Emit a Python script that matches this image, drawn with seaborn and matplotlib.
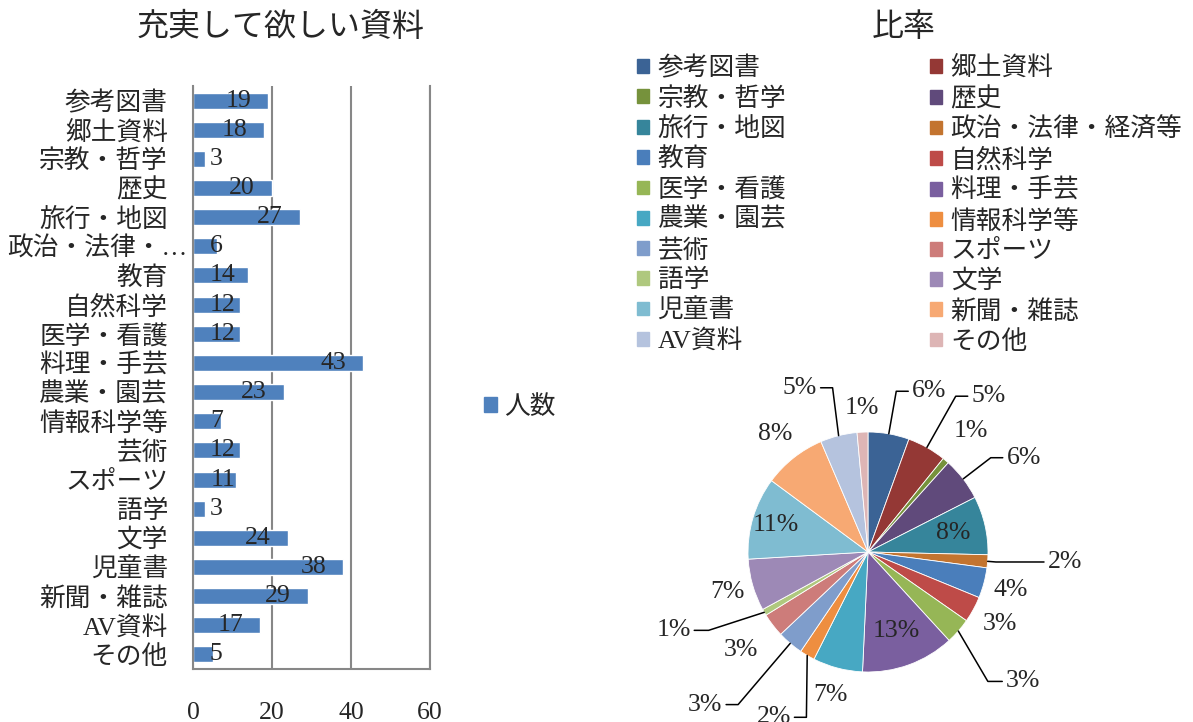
import numpy as np
import pandas as pd
import seaborn as sns
import matplotlib.pyplot as plt
import matplotlib.transforms as mtransforms
from matplotlib.patches import Patch

# data
categories = ['参考図書', '郷土資料', '宗教・哲学', '歴史', '旅行・地図', '政治・法律・経済等',
              '教育', '自然科学', '医学・看護', '料理・手芸', '農業・園芸', '情報科学等',
              '芸術', 'スポーツ', '語学', '文学', '児童書', '新聞・雑誌', 'AV資料', 'その他']
counts = [19, 18, 3, 20, 27, 6, 14, 12, 12, 43, 23, 7, 12, 11, 3, 24, 38, 29, 17, 5]
x_ticks = [0, 20, 40, 60]
series_name = '人数'
bar_title = '充実して欲しい資料'
pie_title = '比率'

colors = ['#3B6395', '#943835', '#76923C', '#604A7B', '#36859B', '#C3742F',
          '#4A7EBB', '#BE4B48', '#96B656', '#7A5F9F', '#47A8C3', '#EE8E40',
          '#7F9DCB', '#CD7C7A', '#AFC87E', '#9D89B6', '#7FBCD1', '#F7A973',
          '#B5C3DE', '#DDB5B5']

# pie label placement: (mode, radius factor, angle shift (deg, clockwise), leader tail)
label_spec = [('line', 1.36, 0, 0.1), ('line', 1.49, 0, 0.1), ('out', 1.32, 0, 0),
              ('line', 1.29, 0, 0.1), ('in', 0.73, 0, 0), ('line', 1.07, 0, 0.4),
              ('out', 1.23, 0, 0), ('out', 1.25, 0, 0), ('line', 1.47, 6, 0.12),
              ('in', 0.7, 0, 0), ('out', 1.23, 0, 0), ('line', 1.47, -10, 0.1),
              ('line', 1.67, 0, 0.1), ('out', 1.34, 0, 0), ('line', 1.48, 4, 0.12),
              ('out', 1.22, 0, 0), ('in', 0.8, 0, 0), ('out', 1.25, 0, 0),
              ('line', 1.4, 2, 0.1), ('out', 1.2, 0, 0)]

sns.set_style('white')
plt.rcParams['font.family'] = ['Liberation Serif', 'Noto Sans CJK JP']
FS = 18.5
W, H = 1193, 722
fig = plt.figure(figsize=(W / 100, H / 100), dpi=100)

# ---- bar chart ----
ax = fig.add_axes([193 / W, 1 - 669 / H, 237 / W, 583 / H])
df = pd.DataFrame({'分類': categories, series_name: counts})
sns.barplot(data=df, x=series_name, y='分類', color='#4F81BD', saturation=1,
            width=0.55, errorbar=None, ax=ax)
ax.set_xlim(0, 60)
ax.set_xticks(x_ticks)
ax.set_yticks(range(len(categories)))
ax.set_yticklabels([c if len(c) <= 6 else c[:6] + '…' for c in categories])
ax.set_xlabel('')
ax.set_ylabel('')
ax.grid(axis='x', color='#878787', lw=1.5)
ax.set_axisbelow(True)
ax.spines['top'].set_visible(False)
for s in ['left', 'bottom', 'right']:
    ax.spines[s].set_color('#878787')
    ax.spines[s].set_linewidth(1.5)
ax.tick_params(axis='x', length=0, pad=24, labelsize=FS)
ax.tick_params(axis='y', length=0, pad=18, labelsize=FS)

# truncated label sits a bit further right, as in the original
for lbl in ax.get_yticklabels():
    if lbl.get_text().endswith('…'):
        lbl.set_transform(lbl.get_transform() +
                          mtransforms.ScaledTranslation(0.19, 0, fig.dpi_scale_trans))

for i, v in enumerate(counts):
    w = 3.2 * len(str(v))
    ax.text(max(v - 4.3, 4.3 + w), i, str(v), ha='right', va='center', fontsize=FS)

fig.legend(handles=[Patch(color='#4F81BD')], labels=[series_name], loc='center left',
           bbox_to_anchor=(484 / W, 1 - 407 / H), frameon=False, fontsize=FS,
           handlelength=0.5, handleheight=0.5, handletextpad=0.3,
           borderpad=0, borderaxespad=0)
fig.text(281 / W, 1 - 28 / H, bar_title, ha='center', va='center', fontsize=23)

# ---- pie chart ----
pax = fig.add_axes([620 / W, 0, 573 / W, 362 / H])
wedges, _ = pax.pie(counts, colors=colors, startangle=90, counterclock=False,
                    wedgeprops=dict(edgecolor='white', linewidth=0.6))
pax.set_xlim((620 - 868) / 120, (1193 - 868) / 120)
pax.set_ylim((552 - 722) / 120, (552 - 360) / 120)

total = sum(counts)
for wdg, v, (mode, r, shift, tail) in zip(wedges, counts, label_spec):
    m0 = (wdg.theta1 + wdg.theta2) / 2
    txt = f'{v / total * 100:.0f}%'
    if mode != 'line':
        a = np.deg2rad(m0)
        pax.text(r * np.cos(a), r * np.sin(a), txt, ha='center', va='center', fontsize=FS)
        continue
    a0 = np.deg2rad(m0)
    a1 = np.deg2rad(m0 - shift)
    p0 = (np.cos(a0), np.sin(a0))
    p1 = (r * np.cos(a1), r * np.sin(a1))
    sgn = 1 if p1[0] > 0 else -1
    p2 = (p1[0] + sgn * tail, p1[1])
    pax.plot([p0[0], p1[0], p2[0]], [p0[1], p1[1], p2[1]], color='black', lw=1.1,
             clip_on=False)
    pax.text(p2[0] + sgn * 0.03, p2[1], txt, ha='left' if sgn > 0 else 'right',
             va='center', fontsize=FS)

handles = [Patch(color=c) for c in colors]
for col, x0 in [(0, 637), (1, 930)]:
    fig.legend(handles=handles[col::2], labels=categories[col::2], loc='upper left',
               bbox_to_anchor=(x0 / W, 1 - 56 / H), frameon=False, fontsize=FS,
               handlelength=0.45, handleheight=0.45, handletextpad=0.35,
               labelspacing=0.25, borderpad=0, borderaxespad=0)
fig.text(904 / W, 1 - 28 / H, pie_title, ha='center', va='center', fontsize=23)

fig.savefig('out.png', dpi=100)
